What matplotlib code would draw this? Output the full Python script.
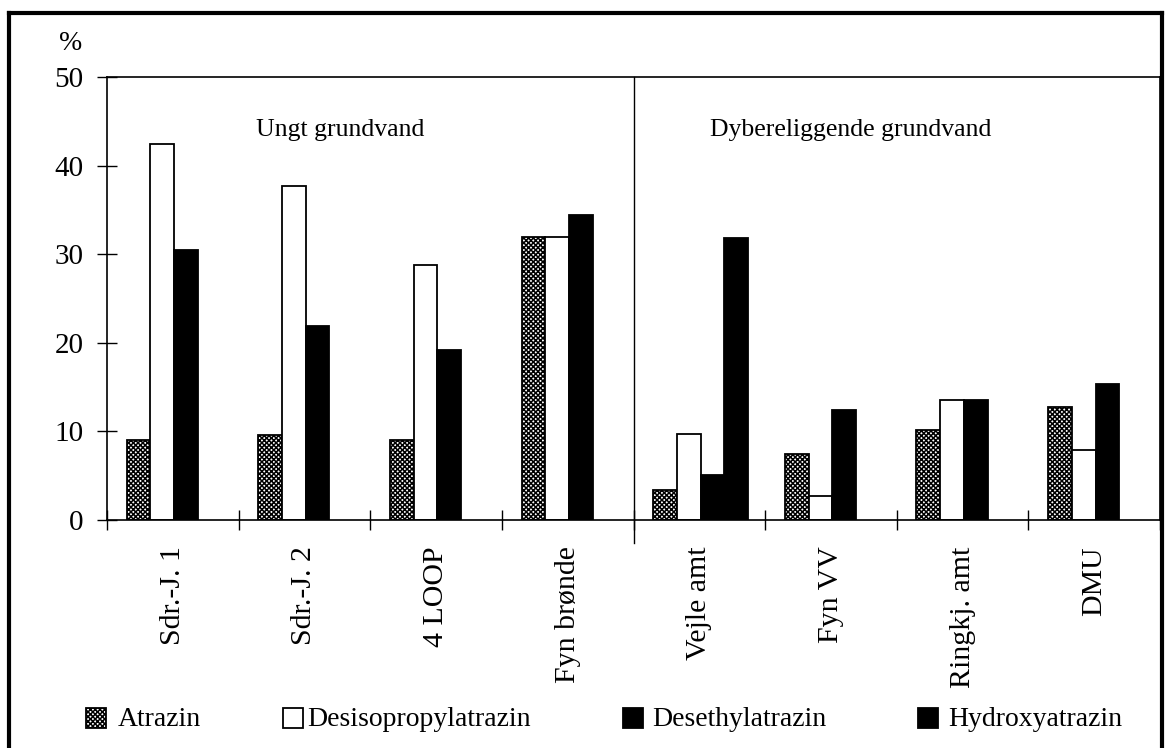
import matplotlib
matplotlib.use('Agg')
import matplotlib.pyplot as plt
import numpy as np
from matplotlib.patches import Rectangle
from matplotlib.lines import Line2D

plt.rcParams['font.family'] = ['Liberation Serif', 'DejaVu Serif']
plt.rcParams['hatch.linewidth'] = 1.1

sites = ['Sdr.-J. 1', 'Sdr.-J. 2', '4 LOOP', 'Fyn brønde',
         'Vejle amt', 'Fyn VV', 'Ringkj. amt', 'DMU']
series = ['Atrazin', 'Desisopropylatrazin', 'Desethylatrazin', 'Hydroxyatrazin']
atrazin = [9.0, 9.6, 9.0, 31.9, 3.4, 7.5, 10.2, 12.8]
desisopropyl = [42.4, 37.7, 28.8, 31.9, 9.7, 2.7, 13.5, 7.9]
desethyl = [30.5, 21.9, 19.2, 34.4, 5.1, 12.4, 13.5, 15.3]
hydroxy = [np.nan, np.nan, np.nan, np.nan, 31.8, np.nan, np.nan, np.nan]
groups = ['Ungt grundvand', 'Dybereliggende grundvand']

W, H = 1165, 748
fig = plt.figure(figsize=(W / 100, H / 100), dpi=100)
ax = fig.add_axes([107 / W, 1 - 520 / H, (1160 - 107) / W, (520 - 77) / H])

styles = [dict(facecolor='white', edgecolor='black', hatch='xxxxxxx'),
          dict(facecolor='white', edgecolor='black'),
          dict(facecolor='black', edgecolor='black'),
          dict(facecolor='black', edgecolor='black')]
width = 0.18
start = 0.15
x = np.arange(len(sites))
for k, vals in enumerate([atrazin, desisopropyl, desethyl, hydroxy]):
    v = np.array(vals, dtype=float)
    ok = ~np.isnan(v)
    ax.bar(x[ok] + start + k * width, v[ok], width=width, align='edge',
           linewidth=1.3, **styles[k])

ax.set_xlim(0, 8)
ax.set_ylim(0, 50)
ax.set_yticks(range(0, 51, 10))
ax.set_xticks(range(0, 9))
ax.set_xticklabels([])
ax.set_xticks(x + 0.5, minor=True)
ax.set_xticklabels(sites, minor=True, rotation=90, fontsize=21.5, va='top')
ax.tick_params(axis='x', which='major', direction='inout', length=14, width=1)
ax.tick_params(axis='x', which='minor', length=0, pad=19)
ax.tick_params(axis='y', direction='inout', length=14, width=1, labelsize=21, pad=10)
for s in ax.spines.values():
    s.set_linewidth(1.2)

ax.plot([4, 4], [-2.6, 50], color='black', lw=1, clip_on=False)
ax.text(1.77, 44, groups[0], fontsize=18.5, ha='center', va='center')
ax.text(5.65, 44, groups[1], fontsize=18.5, ha='center', va='center')
fig.text(71 / W, 1 - 43 / H, '%', fontsize=20, ha='center', va='center')

# legend drawn by hand
box_x = [86, 283, 623, 918]
text_x = [118, 307, 652, 948]
for k in range(4):
    r = Rectangle((box_x[k] / W, 1 - 728 / H), 20 / W, 20 / H,
                  transform=fig.transFigure, linewidth=1.3, **styles[k])
    fig.add_artist(r)
    fig.text(text_x[k] / W, 1 - 719 / H, series[k], fontsize=20,
             ha='left', va='center')

# outer frame
for xs, ys in [([9, 9], [13, 748]), ([9, 1162], [13, 13]), ([1162, 1162], [13, 748])]:
    fig.add_artist(Line2D([v / W for v in xs], [1 - v / H for v in ys],
                          transform=fig.transFigure, color='black', lw=3))

fig.savefig('out.png', dpi=100)
